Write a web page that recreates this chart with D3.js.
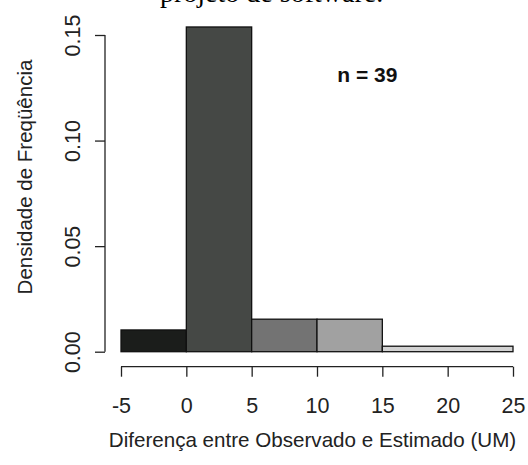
<!DOCTYPE html>
<html>
<head>
<meta charset="utf-8">
<script src="https://cdn.jsdelivr.net/npm/d3@7"></script>
<style>
  html, body { margin: 0; padding: 0; background: #fff; }
  svg { display: block; }
</style>
</head>
<body>
<svg id="chart" width="528" height="465"></svg>
<script>
// ---- data ----
const binStarts = [-5, 0, 5, 10, 15];
const binEnds   = [0, 5, 10, 15, 25];
const densities = [0.0103, 0.1538, 0.0154, 0.0154, 0.0026];
const binColors = ["#1b1d1b", "#454845", "#737373", "#a1a1a1", "#d2d2d2"];
const xTicks = [-5, 0, 5, 10, 15, 20, 25];
const yTicks = [0.00, 0.05, 0.10, 0.15];
const yTickLabels = ["0.00", "0.05", "0.10", "0.15"];
const titleText = "projeto de software.";
const xLabel = "Diferença entre Observado e Estimado (UM)";
const yLabel = "Densidade de Freqüência";
const annotation = "n = 39";

const svg = d3.select("#chart");
const x = d3.scaleLinear().domain([-5, 25]).range([121, 513]);
const y = d3.scaleLinear().domain([0, 0.15]).range([351.7, 35]);

// title (cut off at top, as in the reference)
svg.append("text")
  .attr("x", 160).attr("y", 1.5)
  .attr("font-family", "Liberation Serif, Times New Roman, serif")
  .attr("font-size", 28).attr("fill", "#000")
  .text(titleText);

// bars
svg.append("g").selectAll("rect")
  .data(densities)
  .join("rect")
  .attr("x", (d, i) => x(binStarts[i]))
  .attr("width", (d, i) => x(binEnds[i]) - x(binStarts[i]))
  .attr("y", d => y(d))
  .attr("height", d => y(0) - y(d))
  .attr("fill", (d, i) => binColors[i])
  .attr("stroke", "#111")
  .attr("stroke-width", 1.3);

// x axis
const xAxis = d3.axisBottom(x).tickValues(xTicks).tickSize(10).tickPadding(21)
  .tickFormat(d3.format("d"));
const gx = svg.append("g").attr("transform", "translate(0,366.7)").call(xAxis);
gx.select(".domain").attr("d", `M${x(-5)},0H${x(25)}`).attr("stroke", "#222").attr("stroke-width", 1.3);
gx.selectAll(".tick line").attr("stroke", "#222").attr("stroke-width", 1.3);
gx.selectAll(".tick text")
  .attr("font-family", "Liberation Sans, Arial, sans-serif")
  .attr("font-size", 21.5).attr("fill", "#222")
  .text(d => d < 0 ? "-" + Math.abs(d) : d);

// y axis
const yAxis = d3.axisLeft(y).tickValues(yTicks).tickSize(10)
  .tickFormat((d, i) => yTickLabels[i]);
const gy = svg.append("g").attr("transform", "translate(105,0)").call(yAxis);
gy.select(".domain").attr("d", `M0,${y(0)}V${y(0.15)}`).attr("stroke", "#222").attr("stroke-width", 1.3);
gy.selectAll(".tick line").attr("stroke", "#222").attr("stroke-width", 1.3);
gy.selectAll(".tick text")
  .attr("font-family", "Liberation Sans, Arial, sans-serif")
  .attr("font-size", 21.5).attr("fill", "#222")
  .attr("text-anchor", "middle")
  .attr("x", null).attr("dy", null)
  .attr("transform", "translate(-25,0) rotate(-90)");

// axis titles
svg.append("text")
  .attr("x", 312.5).attr("y", 447)
  .attr("text-anchor", "middle")
  .attr("font-family", "Liberation Sans, Arial, sans-serif")
  .attr("font-size", 20.6).attr("fill", "#222")
  .text(xLabel);

svg.append("text")
  .attr("transform", "translate(32,177) rotate(-90)")
  .attr("text-anchor", "middle")
  .attr("font-family", "Liberation Sans, Arial, sans-serif")
  .attr("font-size", 20.5).attr("fill", "#222")
  .text(yLabel);

// annotation
svg.append("text")
  .attr("x", x(13.86)).attr("y", 81.5)
  .attr("text-anchor", "middle")
  .attr("font-family", "Liberation Sans, Arial, sans-serif")
  .attr("font-weight", "bold")
  .attr("font-size", 21).attr("fill", "#111")
  .text(annotation);
</script>
</body>
</html>
